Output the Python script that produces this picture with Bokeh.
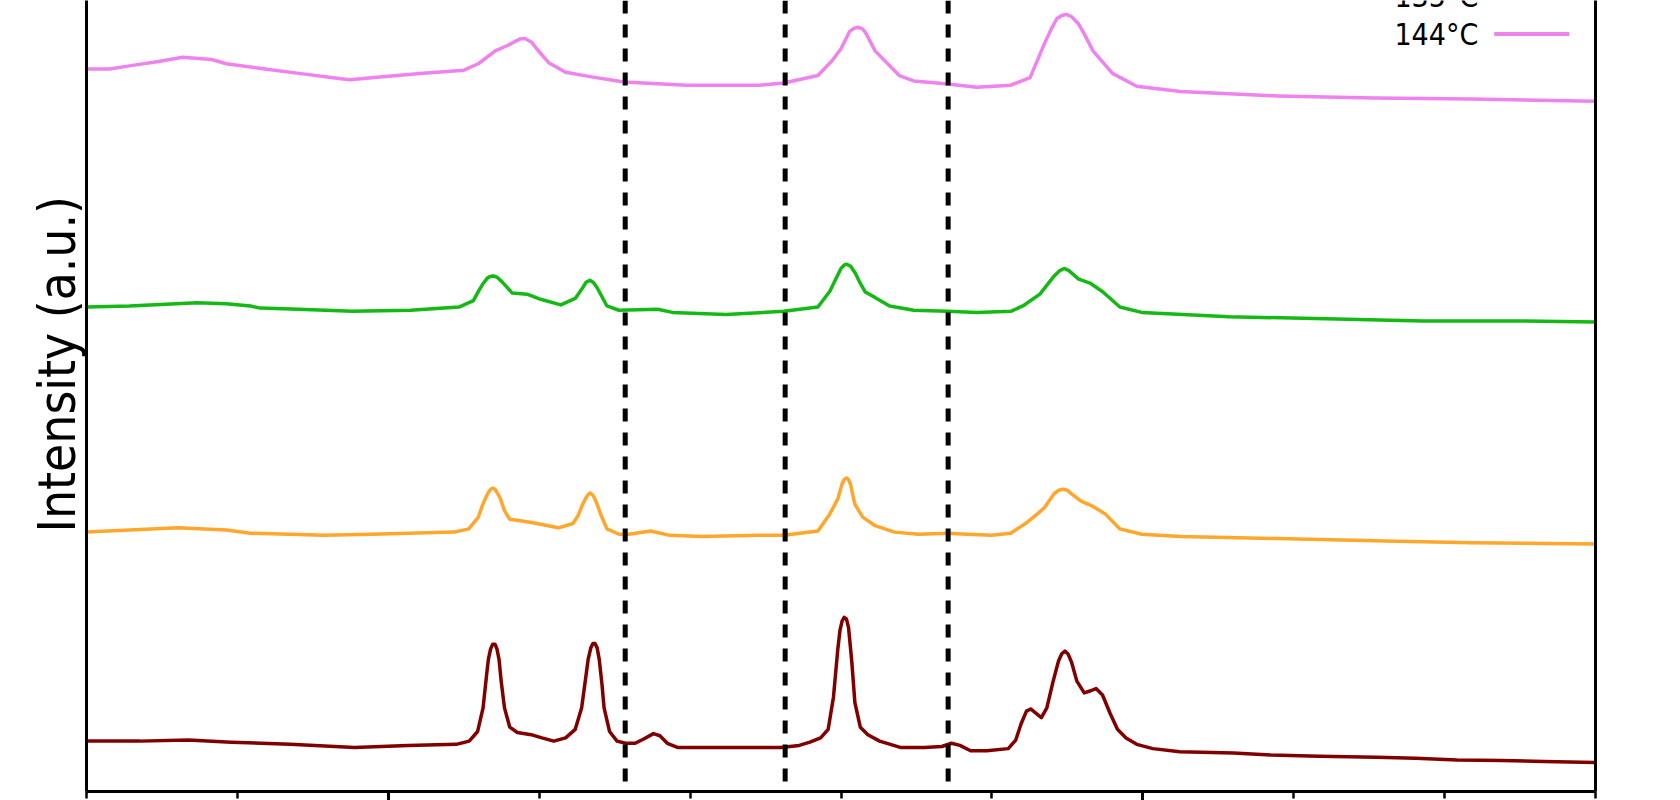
from bokeh.plotting import figure
from bokeh.models import Range1d, Span, Label, LinearAxis, FixedTicker, BoxAnnotation, CustomJSTickFormatter, Title
from bokeh.embed import file_html
from bokeh.resources import INLINE

# ---- data (2theta in degrees, intensity in a.u.) ----
x_rt = [8.000, 8.355, 8.675, 8.959, 9.349, 9.776, 10.131, 10.450, 10.536, 10.592,
        10.628, 10.650, 10.663, 10.678, 10.692, 10.707, 10.720, 10.734, 10.748, 10.770,
        10.805, 10.855, 10.947, 11.018, 11.097, 11.175, 11.239, 11.281, 11.310, 11.324,
        11.342, 11.356, 11.370, 11.384, 11.398, 11.416, 11.430, 11.466, 11.516, 11.572,
        11.636, 11.693, 11.757, 11.800, 11.849, 11.920, 12.261, 12.602, 12.723, 12.794,
        12.865, 12.915, 12.950, 12.979, 12.993, 13.007, 13.021, 13.036, 13.050, 13.071,
        13.092, 13.128, 13.178, 13.256, 13.398, 13.554, 13.668, 13.732, 13.788, 13.859,
        13.966, 14.108, 14.158, 14.193, 14.229, 14.257, 14.293, 14.328, 14.364, 14.406,
        14.442, 14.463, 14.484, 14.506, 14.527, 14.563, 14.612, 14.655, 14.690, 14.733,
        14.783, 14.832, 14.889, 14.960, 15.067, 15.244, 15.599, 15.848, 16.168, 16.551,
        16.807, 17.084, 17.375, 17.659, 18.000]
y_rt = [50, 50, 51, 49, 47, 44, 46, 47, 50, 59,
        81, 110, 126, 136, 140.5, 140.5, 136, 126, 106, 81,
        63, 58, 56, 53, 50, 53, 61, 81, 111, 126,
        137, 141, 141, 137, 126, 103, 81, 59, 50, 48,
        48, 52, 57, 55, 48, 44, 44, 44, 46, 49,
        53, 61, 91, 136, 153, 162, 165.5, 164, 156, 125,
        86, 63, 56, 50, 44, 44, 45, 48, 46, 41,
        41, 43, 51, 66, 78, 80, 76, 72, 81, 106,
        125, 131.5, 134, 131, 124, 106, 95, 97, 99, 93,
        76, 61, 53, 47, 43, 40, 39, 37, 36, 35,
        34, 32.5, 32, 31, 30]

x_or = [8.000, 8.605, 8.926, 9.087, 9.570, 9.889, 10.436, 10.533, 10.597, 10.621,
        10.645, 10.663, 10.678, 10.693, 10.707, 10.720, 10.741, 10.770, 10.805, 10.854,
        10.950, 11.127, 11.224, 11.260, 11.288, 11.310, 11.324, 11.338, 11.352, 11.366,
        11.384, 11.409, 11.449, 11.528, 11.594, 11.738, 11.866, 12.075, 12.460, 12.621,
        12.847, 12.926, 12.979, 13.007, 13.021, 13.036, 13.050, 13.064, 13.092, 13.144,
        13.226, 13.354, 13.514, 13.707, 13.836, 13.996, 14.125, 14.222, 14.302, 14.349,
        14.413, 14.442, 14.472, 14.500, 14.526, 14.591, 14.670, 14.751, 14.848, 14.992,
        15.249, 15.891, 16.533, 17.176, 18.000]
y_or = [245, 249, 247, 244, 242, 243, 245, 248, 259, 269,
        277, 282, 285, 286, 285, 282, 277, 265, 257, 256,
        254, 249, 253, 261, 271, 277, 280, 281.5, 280, 277,
        271, 261, 248, 243, 243, 246, 242, 241, 242, 242,
        246, 262, 276, 290, 294, 295.5, 294, 289, 271, 259,
        251, 245, 243, 244, 243, 242, 244, 253, 262, 268,
        281, 284, 285, 284, 281, 274, 269, 262, 248, 243,
        241, 239, 237, 235, 234]

x_gr = [8.000, 8.284, 8.733, 8.926, 9.087, 9.151, 9.406, 9.761, 10.147, 10.468,
        10.564, 10.599, 10.629, 10.656, 10.675, 10.693, 10.710, 10.727, 10.757, 10.822,
        10.919, 11.015, 11.143, 11.239, 11.288, 11.310, 11.336, 11.359, 11.384, 11.449,
        11.528, 11.786, 11.882, 12.236, 12.621, 12.847, 12.927, 12.972, 13.000, 13.020,
        13.038, 13.064, 13.097, 13.121, 13.161, 13.225, 13.322, 13.482, 13.707, 13.900,
        14.125, 14.205, 14.318, 14.413, 14.450, 14.479, 14.510, 14.575, 14.655, 14.736,
        14.848, 14.992, 15.571, 16.213, 16.857, 17.499, 18.000]
y_gr = [455, 456, 459, 458, 456, 454, 453, 451, 452, 455,
        461, 470, 477, 482, 483.5, 484, 483.5, 482, 478, 468,
        467, 462, 457, 463, 473, 478, 480, 478, 473, 456,
        452, 453, 450, 448, 451, 455, 470, 483, 491, 494,
        495, 493, 486, 479, 469, 464, 456, 452, 451, 450,
        451, 456, 467, 484, 489, 491, 489, 481, 477, 469,
        455, 450, 446, 444, 442, 442, 441]

x_vi = [8.000, 8.154, 8.284, 8.477, 8.637, 8.830, 8.926, 9.183, 9.408, 9.633,
        9.745, 9.889, 10.211, 10.501, 10.597, 10.709, 10.790, 10.870, 10.905, 10.950,
        10.983, 11.063, 11.175, 11.336, 11.561, 11.979, 12.460, 12.621, 12.847, 12.942,
        13.000, 13.057, 13.085, 13.113, 13.142, 13.163, 13.226, 13.386, 13.482, 13.707,
        13.900, 14.125, 14.253, 14.349, 14.392, 14.430, 14.463, 14.494, 14.527, 14.575,
        14.619, 14.670, 14.799, 14.960, 15.249, 15.892, 16.535, 17.176, 18.000]
y_vi = [677, 677, 680, 684, 688, 686, 682, 677, 673, 669,
        667, 669, 673, 676, 682, 694, 699, 705, 705.5, 702,
        696, 683, 674, 670, 665, 662, 662, 664, 671, 685,
        696, 712, 715, 716, 714.5, 711, 694, 671, 666, 663,
        660, 662, 669, 701, 714, 724, 727, 728, 726, 719,
        708, 694, 673, 661, 656, 652, 650, 649, 647]

dashed_positions = [11.57, 12.63, 13.71]
major_ticks = [10, 15]
minor_ticks = [8, 9, 11, 12, 13, 14, 16, 17, 18]

series = [
    (x_rt, y_rt, "#800000"),
    (x_or, y_or, "#FFA62B"),
    (x_gr, y_gr, "#14B914"),
    (x_vi, y_vi, "#EE82EE"),
]

FONT = "DejaVu Sans Condensed, DejaVu Sans"

p = figure(frame_width=1509, frame_height=791,
           x_range=Range1d(8, 18), y_range=Range1d(3, 741),
           output_backend="svg", toolbar_location=None,
           min_border_left=86, min_border_right=20, min_border_top=0, min_border_bottom=0,
           background_fill_color="white", border_fill_color="white")
p.outline_line_color = None
p.xgrid.visible = False
p.ygrid.visible = False

xa = p.xaxis[0]
xa.ticker = FixedTicker(ticks=major_ticks, minor_ticks=minor_ticks)
xa.formatter = CustomJSTickFormatter(code="return ''")
xa.major_label_text_font_size = "0px"
xa.major_label_standoff = 0
xa.major_tick_in = 0
xa.major_tick_out = 9
xa.minor_tick_in = 0
xa.minor_tick_out = 7
xa.major_tick_line_width = 3
xa.minor_tick_line_width = 2.5
xa.axis_line_width = 3
xa.axis_line_color = "black"
xa.major_tick_line_color = "black"
xa.minor_tick_line_color = "black"

ya = p.yaxis[0]
ya.ticker = FixedTicker(ticks=[])
ya.major_label_text_font_size = "0px"
ya.major_label_standoff = 0
ya.major_tick_out = 0
ya.major_tick_in = 0
ya.minor_tick_out = 0
ya.minor_tick_in = 0
ya.axis_line_width = 3
ya.axis_line_color = "black"

# y title placed on the left side, measured up from the bottom of the frame
p.add_layout(Title(text="Intensity (a.u.)", align="left", offset=259, standoff=0,
                   vertical_align="bottom", text_font_size="51px", text_font=FONT,
                   text_font_style="normal", text_color="black"), "left")

ra = LinearAxis(ticker=FixedTicker(ticks=[]), major_label_text_font_size="0px",
                major_label_standoff=0, major_tick_out=0, minor_tick_out=0,
                axis_line_width=3, axis_line_color="black")
p.add_layout(ra, "right")

for xs, ys, c in series:
    p.line(xs, ys, line_color=c, line_width=3.5, line_join="round", line_cap="round")

for v in dashed_positions:
    p.add_layout(Span(location=v, dimension="height", line_color="black",
                      line_width=5, line_dash="13 11"))

# legend (label left of sample line)
p.add_layout(Label(x=17.223, y=709.7, text="144°C", text_align="right",
                   text_baseline="middle", text_font_size="30px", text_font=FONT,
                   text_color="black"))
p.add_layout(Label(x=17.223, y=745, text="135°C", text_align="right",
                   text_baseline="middle", text_font_size="30px", text_font=FONT,
                   text_color="black"))
p.add_layout(BoxAnnotation(left=17.329, right=17.826, bottom=707.8, top=711.6,
                           fill_color="#EE82EE", fill_alpha=1, line_color=None))
p.add_layout(BoxAnnotation(left=17.329, right=17.826, bottom=743, top=746.8,
                           fill_color="#14B914", fill_alpha=1, line_color=None))

open("out.html", "w").write(file_html(p, INLINE))
